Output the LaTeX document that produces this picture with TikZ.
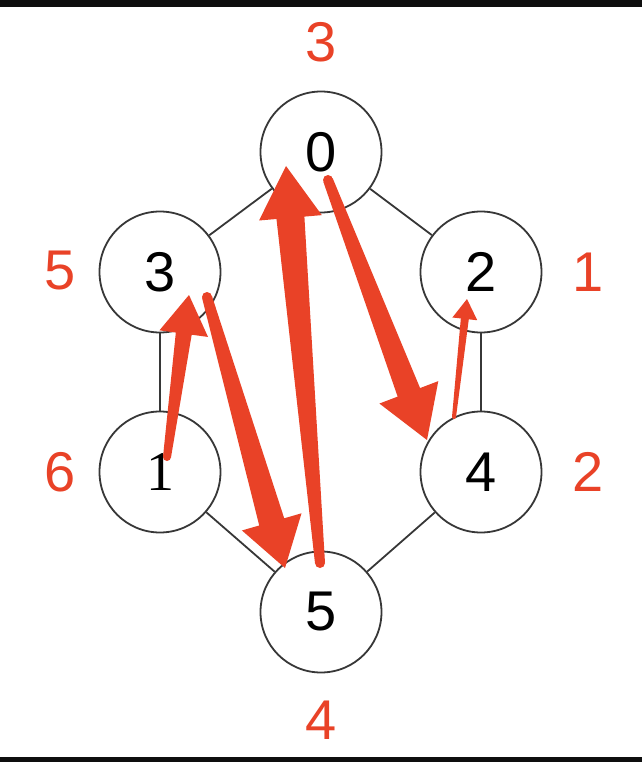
\documentclass[tikz,border=0pt]{standalone}
\usepackage{fontspec}
\setmainfont{Liberation Sans}
\newfontfamily\seriffam{Liberation Serif}
\usetikzlibrary{calc}
\definecolor{arrred}{RGB}{233,66,39}
\definecolor{linegray}{RGB}{55,55,55}
\definecolor{barblack}{RGB}{14,14,14}
\newcommand\taperarrow[6]{%
  \coordinate (tmpH) at ($(#2)!#5pt!(#1)$);
  \fill[arrred] ($(#1)!{#3pt/2}!90:(#2)$) -- ($(tmpH)!{#4pt/2}!-90:(#1)$) -- ($(tmpH)!{#6pt/2}!-90:(#1)$) -- (#2) -- ($(tmpH)!{#6pt/2}!90:(#1)$) -- ($(tmpH)!{#4pt/2}!90:(#1)$) -- ($(#1)!{#3pt/2}!-90:(#2)$) -- cycle;
  \fill[arrred] (#1) circle[radius=#3pt/2];
}
\begin{document}
\begin{tikzpicture}[x=1pt,y=-1pt,
  vtx/.style={circle,draw=linegray,line width=1.8pt,fill=white,minimum size=121pt,inner sep=0pt,font=\fontsize{56}{56}\selectfont},
  edge/.style={draw=linegray,line width=1.8pt},
  order/.style={text=arrred,font=\fontsize{56}{56}\selectfont,inner sep=0pt}]
\useasboundingbox (0,0) rectangle (642,762);
\fill[white] (0,0) rectangle (642,762);
\fill[barblack] (0,0) rectangle (642,7);
\fill[barblack] (0,757) rectangle (642,762);
% vertices
\node[vtx] (n0) at (321,152) {0};
\node[vtx] (n3) at (160,272) {3};
\node[vtx] (n2) at (481,272) {2};
\node[vtx] (n1) at (160,472) {\seriffam 1};
\node[vtx] (n4) at (481,472) {4};
\node[vtx] (n5) at (321,612) {5};
% edges
\path[edge] (n0) -- (n3);
\path[edge] (n0) -- (n2);
\path[edge] (n3) -- (n1);
\path[edge] (n2) -- (n4);
\path[edge] (n1) -- (n5);
\path[edge] (n4) -- (n5);
% order labels
\node[order] (l0) at (321,42) {3};
\node[order] (l3) at (60,271) {5};
\node[order] (l2) at (588,272) {1};
\node[order] (l1) at (60,472) {6};
\node[order] (l4) at (588,472) {2};
\node[order] (l5) at (321,720) {4};
% arrow end points
\coordinate (a1) at (167,457); \coordinate (b1) at (189,295);
\coordinate (a2) at (207,297); \coordinate (b2) at (285,568);
\coordinate (a3) at (320,563); \coordinate (b3) at (286,166);
\coordinate (a4) at (328,180); \coordinate (b4) at (427,440);
\coordinate (a5) at (454,417); \coordinate (b5) at (467,299);
\taperarrow{a1}{b1}{8}{16}{39}{49}
\taperarrow{a2}{b2}{10}{26}{48}{62}
\taperarrow{a3}{b3}{10}{28}{52}{63}
\taperarrow{a4}{b4}{10}{24}{51}{63}
\taperarrow{a5}{b5}{4}{8}{20}{25}
\end{tikzpicture}
\end{document}
